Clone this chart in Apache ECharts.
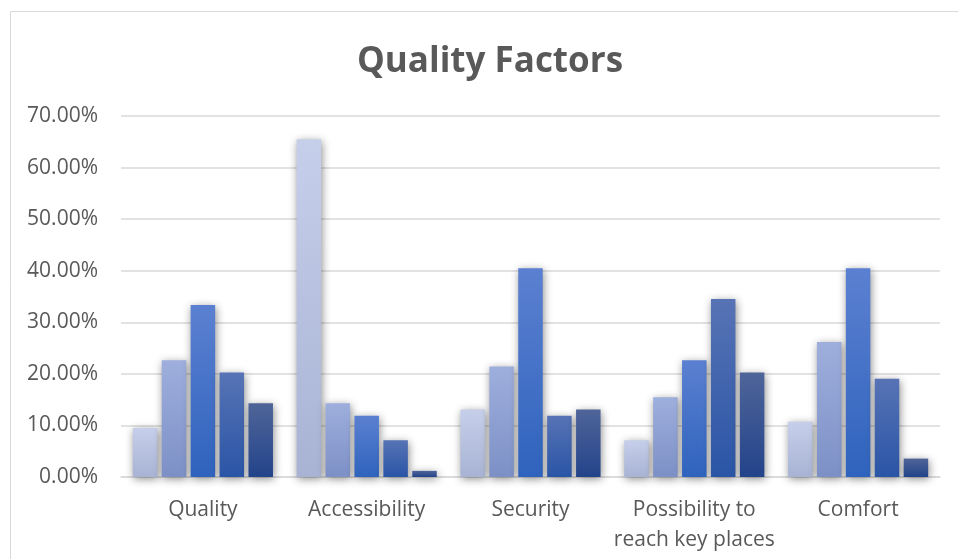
<!DOCTYPE html>
<html>
<head>
<meta charset="utf-8">
<script src="https://cdn.jsdelivr.net/npm/echarts@6/dist/echarts.min.js"></script>
<style>
  html, body { margin: 0; padding: 0; background: #fff; }
  #chart { width: 958px; height: 559px; }
</style>
</head>
<body>
<div id="chart"></div>
<script>
// Survey shares per quality factor (percent of respondents for each rating level)
const categories = ['Quality', 'Accessibility', 'Security', 'Possibility to\nreach key places', 'Comfort'];
const level1 = [9.52, 65.48, 13.10, 7.14, 10.71];
const level2 = [22.62, 14.29, 21.43, 15.48, 26.19];
const level3 = [33.33, 11.90, 40.48, 22.62, 40.48];
const level4 = [20.24, 7.14, 11.90, 34.52, 19.05];
const level5 = [14.29, 1.19, 13.10, 20.24, 3.57];
const seriesNames = ['1', '2', '3', '4', '5'];
const yTicks = { min: 0, max: 70, step: 10 };

// top / bottom colour of each series' vertical gradient
const palette = [
  ['#c6cfea', '#a8b3d4'],
  ['#9eafdd', '#7d90c6'],
  ['#5b80d1', '#2f63bd'],
  ['#5773b5', '#2a55a6'],
  ['#4f6599', '#23438a']
];

const chart = echarts.init(document.getElementById('chart'), null, { renderer: 'canvas' });
const font = '"Open Sans", "Noto Sans", sans-serif';

const seriesData = [level1, level2, level3, level4, level5];

chart.setOption({
  backgroundColor: '#ffffff',
  animation: false,
  title: {
    text: 'Quality Factors',
    left: 485,
    textAlign: 'center',
    top: 40,
    textStyle: { fontFamily: font, fontSize: 35, fontWeight: 'bold', color: '#595959' }
  },
  graphic: [{
    type: 'rect',
    shape: { x: 10.5, y: 11.5, width: 1000, height: 600 },
    style: { fill: 'none', stroke: '#d9d9d9', lineWidth: 1 },
    silent: true,
    z: -1
  }],
  grid: { left: 121, right: 18, top: 116, bottom: 82, containLabel: false },
  xAxis: {
    type: 'category',
    data: categories,
    axisLine: { show: true, lineStyle: { color: '#d9d9d9', width: 1.5 } },
    axisTick: { show: false },
    axisLabel: {
      fontFamily: font, fontSize: 21, color: '#595959',
      margin: 18, lineHeight: 30, interval: 0
    }
  },
  yAxis: {
    type: 'value',
    min: yTicks.min,
    max: yTicks.max,
    interval: yTicks.step,
    axisLine: { show: false },
    axisTick: { show: false },
    splitLine: { lineStyle: { color: '#d9d9d9', width: 1.5 } },
    axisLabel: {
      fontFamily: font, fontSize: 21, color: '#595959', margin: 23,
      formatter: v => v.toFixed(2) + '%'
    }
  },
  series: seriesData.map((vals, i) => ({
    name: seriesNames[i],
    type: 'bar',
    data: vals,
    barWidth: 24.5,
    barGap: '18%',
    itemStyle: {
      color: new echarts.graphic.LinearGradient(0, 0, 0, 1, [
        { offset: 0, color: palette[i][0] },
        { offset: 1, color: palette[i][1] }
      ]),
      shadowBlur: 9,
      shadowColor: 'rgba(0,0,0,0.45)',
      shadowOffsetX: 1,
      shadowOffsetY: 2
    }
  }))
});
</script>
</body>
</html>
